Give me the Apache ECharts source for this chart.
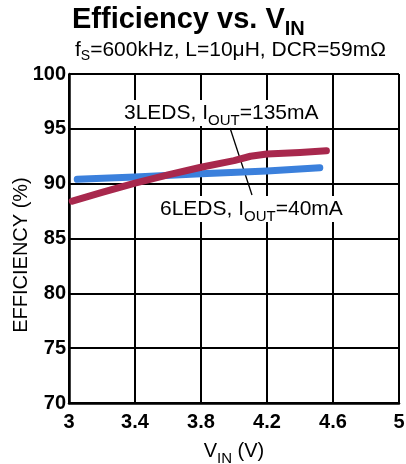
<!DOCTYPE html>
<html>
<head>
<meta charset="utf-8">
<script src="https://cdn.jsdelivr.net/npm/echarts@6/dist/echarts.min.js"></script>
<style>
html,body{margin:0;padding:0;background:#fff;}
#chart{width:406px;height:464px;}
</style>
</head>
<body>
<div id="chart"></div>
<script>
// Data
var xTicks = [3, 3.4, 3.8, 4.2, 4.6, 5];
var yTicks = [70, 75, 80, 85, 90, 95, 100];

var vin3Leds = [3.02, 3.2, 3.4, 3.6, 3.8, 4.0, 4.1, 4.2, 4.4, 4.56];
var eff3Leds = [88.4, 89.2, 90.05, 90.8, 91.5, 92.1, 92.5, 92.7, 92.85, 93.0];

var vin6Leds = [3.05, 3.4, 3.8, 4.2, 4.52];
var eff6Leds = [90.4, 90.6, 90.9, 91.15, 91.45];

var leaderLine = [[3.976, 95.07], [4.109, 88.96]];

var FONT = 'Liberation Sans, Arial, Helvetica, sans-serif';

function pairs(xs, ys) {
  return xs.map(function (x, i) { return [x, ys[i]]; });
}

var chart = echarts.init(document.getElementById('chart'), null, {renderer: 'canvas'});

var option = {
  backgroundColor: '#ffffff',
  animation: false,
  textStyle: {fontFamily: FONT, color: '#000'},
  title: [{
    text: '{m|Efficiency vs. V}{s|IN}',
    left: 67,
    top: -1,
    textStyle: {
      rich: {
        m: {fontFamily: FONT, fontSize: 29, fontWeight: 'bold', color: '#000', lineHeight: 32},
        s: {fontFamily: FONT, fontSize: 20, fontWeight: 'bold', color: '#000', lineHeight: 20, padding: [18, 0, 0, 0]}
      }
    }
  }, {
    text: '{m|f}{s|S}{m|=600kHz, L=10μH, DCR=59mΩ}',
    left: 70,
    top: 33,
    textStyle: {
      fontWeight: 'normal',
      rich: {
        m: {fontFamily: FONT, fontSize: 21, fontWeight: 'normal', color: '#000', lineHeight: 24},
        s: {fontFamily: FONT, fontSize: 14, fontWeight: 'normal', color: '#000', lineHeight: 14, padding: [12, 0, 0, 0]}
      }
    }
  }],
  grid: {left: 69, right: 7, top: 74, bottom: 61, containLabel: false, outerBoundsMode: 'none'},
  xAxis: {
    type: 'value',
    min: xTicks[0],
    max: xTicks[xTicks.length - 1],
    interval: 0.4,
    name: '{m|V}{s|IN}{m| (V)}',
    nameLocation: 'middle',
    nameGap: 31,
    nameTextStyle: {
      rich: {
        m: {fontFamily: FONT, fontSize: 20, color: '#000', lineHeight: 24},
        s: {fontFamily: FONT, fontSize: 15, color: '#000', lineHeight: 15, padding: [14, 0, 0, 0]}
      }
    },
    axisLine: {show: true, lineStyle: {color: '#000', width: 2.5}},
    axisTick: {show: false},
    axisLabel: {
      fontFamily: FONT, fontSize: 20, fontWeight: 'bold', color: '#000', margin: 9,
      formatter: function (v) { return String(+v.toFixed(1)); }
    },
    splitLine: {show: true, lineStyle: {color: '#000', width: 2}}
  },
  yAxis: {
    type: 'value',
    min: yTicks[0],
    max: yTicks[yTicks.length - 1],
    interval: 5,
    axisLine: {show: true, lineStyle: {color: '#000', width: 2.5}},
    axisTick: {show: false},
    axisLabel: {fontFamily: FONT, fontSize: 20, fontWeight: 'bold', color: '#000', margin: 3},
    splitLine: {show: true, lineStyle: {color: '#000', width: 2}}
  },
  graphic: [{
    type: 'text',
    x: 21,
    y: 255,
    rotation: Math.PI / 2,
    style: {
      text: 'EFFICIENCY (%)',
      fontFamily: FONT,
      fontSize: 20,
      fill: '#000',
      align: 'center',
      verticalAlign: 'middle'
    },
    z: 10
  }, {
    type: 'text',
    left: 124,
    top: 98,
    style: {
      text: '{m|3LEDS, I}{s|OUT}{m|=135mA}',
      rich: {
        m: {fontFamily: FONT, fontSize: 21, fill: '#000', lineHeight: 26},
        s: {fontFamily: FONT, fontSize: 15, fill: '#000', lineHeight: 15, padding: [15, 0, 0, 0]}
      },
      backgroundColor: '#fff'
    },
    z: 10
  }, {
    type: 'text',
    left: 160,
    top: 194,
    style: {
      text: '{m|6LEDS, I}{s|OUT}{m|=40mA}',
      rich: {
        m: {fontFamily: FONT, fontSize: 21, fill: '#000', lineHeight: 26},
        s: {fontFamily: FONT, fontSize: 15, fill: '#000', lineHeight: 15, padding: [15, 0, 0, 0]}
      },
      backgroundColor: '#fff'
    },
    z: 10
  }],
  series: [{
    name: '6LEDS',
    type: 'line',
    data: pairs(vin6Leds, eff6Leds),
    showSymbol: false,
    symbol: 'none',
    lineStyle: {color: '#3b80dc', width: 7, cap: 'round', join: 'round'},
    z: 3,
    markLine: {
      silent: true,
      symbol: 'none',
      z: 1,
      label: {show: false},
      lineStyle: {color: '#000', width: 1.3, type: 'solid'},
      data: [[{coord: leaderLine[0]}, {coord: leaderLine[1]}]]
    }
  }, {
    name: '3LEDS',
    type: 'line',
    data: pairs(vin3Leds, eff3Leds),
    showSymbol: false,
    symbol: 'none',
    lineStyle: {color: '#a8284d', width: 7, cap: 'round', join: 'round'},
    z: 4
  }]
};

chart.setOption(option);
</script>
</body>
</html>
